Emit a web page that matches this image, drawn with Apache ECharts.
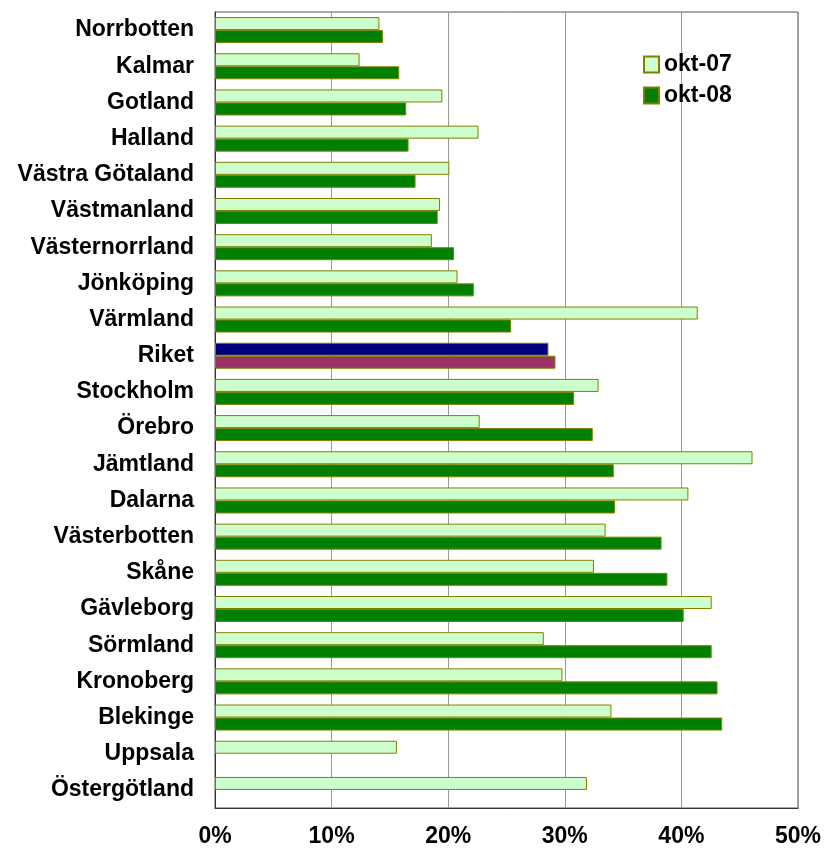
<!DOCTYPE html>
<html>
<head>
<meta charset="utf-8">
<script src="https://cdn.jsdelivr.net/npm/echarts@6/dist/echarts.min.js"></script>
<style>
  html, body { margin: 0; padding: 0; background: #fff; }
  #chart { width: 824px; height: 859px; }
</style>
</head>
<body>
<div id="chart"></div>
<script>
// Regions, top to bottom
const regions = [
  'Norrbotten', 'Kalmar', 'Gotland', 'Halland', 'Västra Götaland', 'Västmanland',
  'Västernorrland', 'Jönköping', 'Värmland', 'Riket', 'Stockholm', 'Örebro',
  'Jämtland', 'Dalarna', 'Västerbotten', 'Skåne', 'Gävleborg', 'Sörmland',
  'Kronoberg', 'Blekinge', 'Uppsala', 'Östergötland'
];

// Share in percent, October 2007
const okt07 = [
  14.1, 12.4, 19.5, 22.6, 20.1, 19.3,
  18.6, 20.8, 41.4, 28.6, 32.9, 22.7,
  46.1, 40.6, 33.5, 32.5, 42.6, 28.2,
  29.8, 34.0, 15.6, 31.9
];

// Share in percent, October 2008 (no value for Uppsala and Östergötland)
const okt08 = [
  14.4, 15.8, 16.4, 16.6, 17.2, 19.1,
  20.5, 22.2, 25.4, 29.2, 30.8, 32.4,
  34.2, 34.3, 38.3, 38.8, 40.2, 42.6,
  43.1, 43.5, null, null
];

const xTicks = [0, 10, 20, 30, 40, 50];

const FONT = '"Liberation Sans", Arial, sans-serif';
const FONT_SIZE = 23;
const OLIVE = '#808000';
const TOTAL = 'Riket';

// The national total gets its own colours
function withHighlight(values, normal, highlight) {
  return values.map((v, i) => regions[i] === TOTAL
    ? { value: v, itemStyle: { color: highlight } }
    : { value: v, itemStyle: { color: normal } });
}

const chart = echarts.init(document.getElementById('chart'), null, { renderer: 'canvas' });

chart.setOption({
  animation: false,
  backgroundColor: '#ffffff',
  grid: {
    left: 215, right: 26, top: 12, bottom: 51,
    show: true, borderColor: '#555555', borderWidth: 1, backgroundColor: 'transparent'
  },
  legend: {
    orient: 'vertical',
    left: 643, top: 53,
    padding: 0,
    itemWidth: 15, itemHeight: 16, itemGap: 8,
    icon: 'rect',
    textStyle: {
      fontFamily: FONT, fontWeight: 'bold', fontSize: FONT_SIZE, color: '#000'
    },
    data: ['okt-07', 'okt-08']
  },
  xAxis: {
    type: 'value',
    min: xTicks[0], max: xTicks[xTicks.length - 1], interval: 10,
    axisLine: { show: true, lineStyle: { color: '#333', width: 1 } },
    axisTick: { show: false },
    splitLine: { show: true, lineStyle: { color: '#999999', width: 1 } },
    axisLabel: {
      margin: 17,
      formatter: '{value}%',
      fontFamily: FONT, fontWeight: 'bold', fontSize: FONT_SIZE, color: '#000'
    }
  },
  yAxis: {
    type: 'category',
    inverse: true,
    data: regions,
    axisLine: { show: true, lineStyle: { color: '#333', width: 1 } },
    axisTick: { show: false },
    axisLabel: {
      margin: 21,
      fontFamily: FONT, fontWeight: 'bold', fontSize: FONT_SIZE, color: '#000'
    }
  },
  series: [
    {
      name: 'okt-07',
      type: 'bar',
      barWidth: 13,
      barGap: '0%',
      itemStyle: { color: '#CCFFCC', borderColor: OLIVE, borderWidth: 1 },
      data: withHighlight(okt07, '#CCFFCC', '#000080')
    },
    {
      name: 'okt-08',
      type: 'bar',
      barWidth: 13,
      barGap: '0%',
      itemStyle: { color: '#008000', borderColor: OLIVE, borderWidth: 1 },
      data: withHighlight(okt08, '#008000', '#993366')
    }
  ]
});
</script>
</body>
</html>
